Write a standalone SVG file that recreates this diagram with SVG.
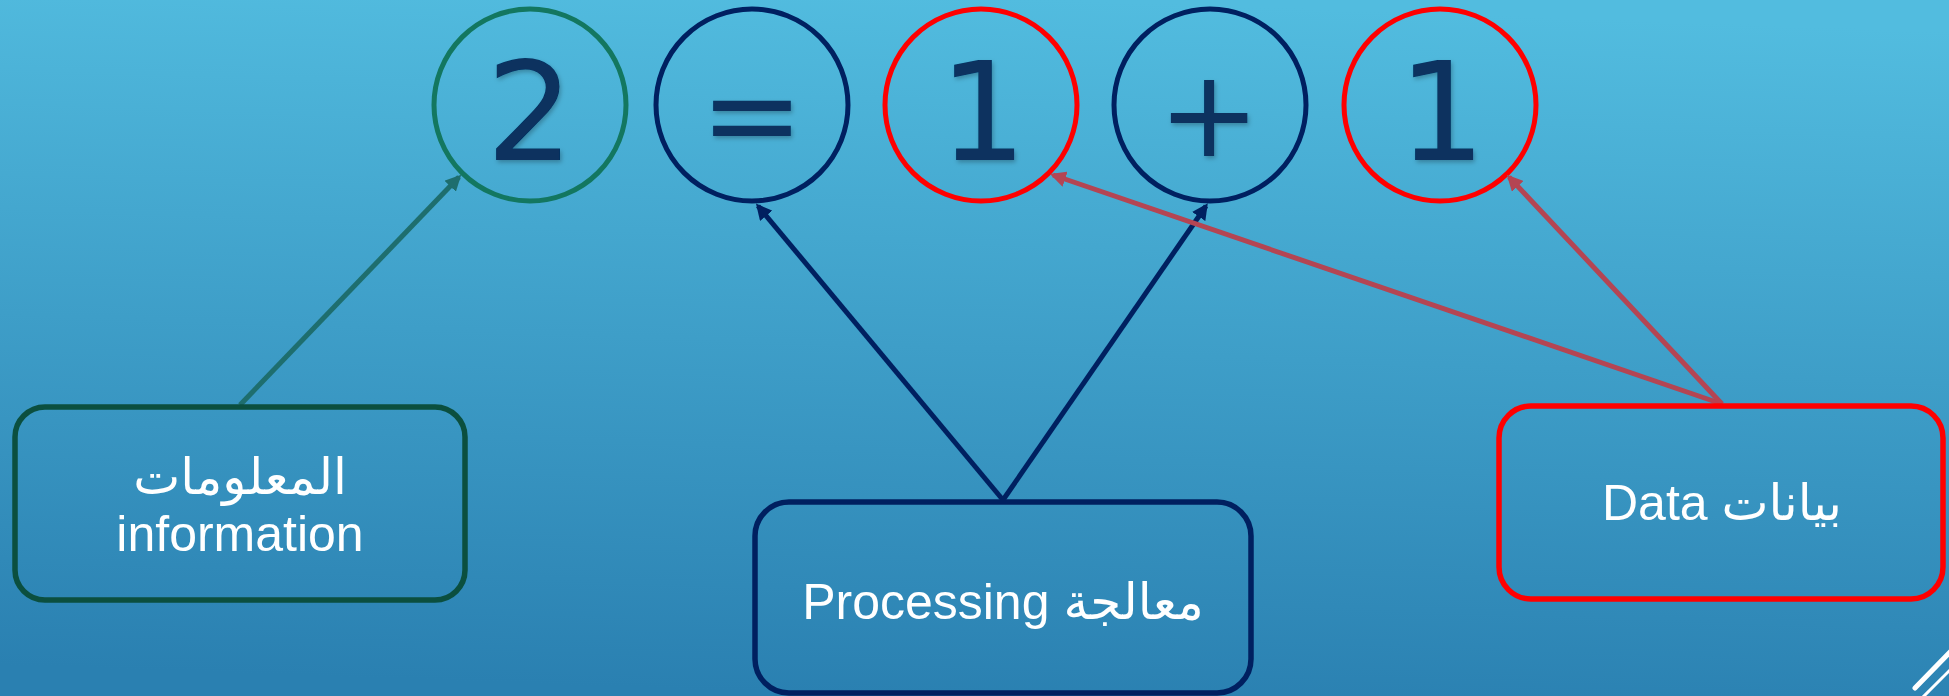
<svg xmlns="http://www.w3.org/2000/svg" width="1949" height="696" viewBox="0 0 1949 696">
  <defs>
    <linearGradient id="bg" x1="0.55" y1="0" x2="0.45" y2="1">
      <stop offset="0" stop-color="#52BCDF"/>
      <stop offset="1" stop-color="#2A80B1"/>
    </linearGradient>
    <filter id="sh" x="-20%" y="-20%" width="140%" height="140%">
      <feDropShadow dx="1.5" dy="2.5" stdDeviation="2" flood-color="#000" flood-opacity="0.25"/>
    </filter>
    <marker id="ah-green" viewBox="0 0 10 10" refX="8" refY="5" markerWidth="3.2" markerHeight="3.2" orient="auto">
      <path d="M0,0 L10,5 L0,10 z" fill="#1E6E6E"/>
    </marker>
    <marker id="ah-navy" viewBox="0 0 10 10" refX="8" refY="5" markerWidth="3.2" markerHeight="3.2" orient="auto">
      <path d="M0,0 L10,5 L0,10 z" fill="#002060"/>
    </marker>
    <marker id="ah-red" viewBox="0 0 10 10" refX="8" refY="5" markerWidth="3.2" markerHeight="3.2" orient="auto">
      <path d="M0,0 L10,5 L0,10 z" fill="#B44553"/>
    </marker>
  </defs>
  <style>
    .ring { fill: none; stroke-width: 5; }
    .glyph { font-family: "DejaVu Sans", sans-serif; fill: #07305F; text-anchor: middle; }
    .box { fill: none; stroke-width: 5.5; }
    .label { font-family: "Liberation Sans", "DejaVu Sans", sans-serif; font-size: 50px; fill: #FFFFFF; text-anchor: middle; }
    .conn { fill: none; stroke-width: 5; }
  </style>

  <rect x="0" y="0" width="1949" height="696" fill="url(#bg)"/>

  <!-- equation circles -->
  <g id="circle-2">
    <circle class="ring" cx="530" cy="105" r="96" stroke="#137760"/>
    <text class="glyph" x="530" y="160" font-size="138" filter="url(#sh)">2</text>
  </g>
  <g id="circle-eq">
    <circle class="ring" cx="752" cy="105" r="96" stroke="#002060"/>
    <text class="glyph" x="752" y="157" font-size="124" filter="url(#sh)">=</text>
  </g>
  <g id="circle-1a">
    <circle class="ring" cx="981" cy="105" r="96" stroke="#FF0000"/>
    <text class="glyph" x="983" y="160" font-size="138" filter="url(#sh)">1</text>
  </g>
  <g id="circle-plus">
    <circle class="ring" cx="1210" cy="105" r="96" stroke="#002060"/>
    <text class="glyph" x="1209" y="156" font-size="122" filter="url(#sh)">+</text>
  </g>
  <g id="circle-1b">
    <circle class="ring" cx="1440" cy="105" r="96" stroke="#FF0000"/>
    <text class="glyph" x="1442" y="160" font-size="138" filter="url(#sh)">1</text>
  </g>

  <!-- connectors -->
  <g id="connectors">
    <line class="conn" x1="240" y1="405" x2="459" y2="177" stroke="#1E6E6E" marker-end="url(#ah-green)"/>
    <line class="conn" x1="1003" y1="500" x2="758" y2="206" stroke="#002060" marker-end="url(#ah-navy)"/>
    <line class="conn" x1="1003" y1="500" x2="1206" y2="206" stroke="#002060" marker-end="url(#ah-navy)"/>
    <line class="conn" x1="1722" y1="404" x2="1053" y2="175" stroke="#B44553" marker-end="url(#ah-red)"/>
    <line class="conn" x1="1722" y1="404" x2="1509" y2="177" stroke="#B44553" marker-end="url(#ah-red)"/>
  </g>

  <!-- boxes -->
  <g id="box-information">
    <rect class="box" x="15" y="407" width="450" height="193" rx="30" stroke="#0B4F3F"/>
    <text class="label" x="240" y="494">المعلومات</text>
    <text class="label" x="240" y="551" font-size="52">information</text>
  </g>
  <g id="box-processing">
    <rect class="box" x="755" y="502" width="496" height="191" rx="34" stroke="#002060"/>
    <text class="label" x="1003" y="619">Processing معالجة</text>
  </g>
  <g id="box-data">
    <rect class="box" x="1499" y="406" width="444" height="193" rx="32" stroke="#FF0000"/>
    <text class="label" x="1722" y="520">Data بيانات</text>
  </g>

  <!-- corner decoration -->
  <g id="corner-mark" stroke="#FFFFFF" stroke-linecap="round">
    <line x1="1915" y1="688" x2="1952" y2="650" stroke-width="5"/>
    <line x1="1922" y1="698" x2="1952" y2="668" stroke-width="3"/>
  </g>
</svg>
